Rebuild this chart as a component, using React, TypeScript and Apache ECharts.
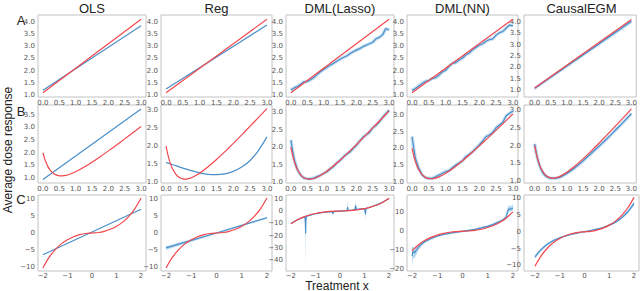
import React, { useEffect, useRef } from "react";
import * as echarts from "echarts";

// ---------- labels ----------
const methods = ["OLS", "Reg", "DML(Lasso)", "DML(NN)", "CausalEGM"];
const rowLetters = ["A", "B", "C"];
const yTitle = "Average dose response";
const xTitle = "Treatment x";

// ---------- tick values ----------
const ticksX_AB = [0, 0.5, 1, 1.5, 2, 2.5, 3];
const ticksX_C = [-2, -1, 0, 1, 2];
const ticksY_A = [1, 1.5, 2, 2.5, 3, 3.5, 4];
const ticksY_B1 = [1, 1.5, 2, 2.5, 3, 3.5];
const ticksY_B = [1, 1.5, 2, 2.5, 3];
const ticksY_C5 = [-10, -5, 0, 5, 10];
const ticksY_CLasso = [-40, -30, -20, -10, 0, 10];
const ticksY_CNN = [-20, -10, 0, 10];

// ---------- Row A (linear truth) ----------
const trueAx = [0, 3];
const trueAy = [1.1, 4.1];
const olsAx = [0, 3];
const olsAy = [1.2, 3.83];
const regAx = [0, 3];
const regAy = [1.26, 3.86];
const x01 = [0, 0.1, 0.2, 0.3, 0.4, 0.5, 0.6, 0.7, 0.8, 0.9, 1.0, 1.1, 1.2, 1.3, 1.4, 1.5, 1.6, 1.7, 1.8, 1.9, 2.0, 2.1, 2.2, 2.3, 2.4, 2.5, 2.6, 2.7, 2.8, 2.9, 3.0];
const lassoAy = [1.22, 1.3, 1.36, 1.45, 1.55, 1.56, 1.63, 1.72, 1.84, 1.96, 2.05, 2.14, 2.22, 2.3, 2.39, 2.47, 2.54, 2.6, 2.69, 2.77, 2.84, 2.9, 2.98, 3.04, 3.1, 3.16, 3.3, 3.36, 3.46, 3.72, 3.66];
const nnAy = [1.2, 1.28, 1.38, 1.48, 1.57, 1.6, 1.68, 1.72, 1.82, 1.95, 2.02, 2.18, 2.3, 2.33, 2.44, 2.52, 2.64, 2.72, 2.85, 2.95, 3.04, 3.1, 3.2, 3.27, 3.3, 3.45, 3.55, 3.6, 3.74, 3.86, 3.83];
const egmAx = [0, 1, 2, 3];
const egmAy = [1.08, 2.06, 3.04, 4.03];
const egmAlo = [1.0, 1.98, 2.96, 3.94];
const egmAhi = [1.15, 2.13, 3.11, 4.1];

// ---------- Row B (U-shaped truth) ----------
const trueBx = [0, 0.05, 0.1, 0.15, 0.2, 0.3, 0.4, 0.5, 0.6, 0.7, 0.8, 1.0, 1.25, 1.5, 1.75, 2.0, 2.25, 2.5, 2.75, 3.0];
const trueBy = [2.0, 1.778, 1.603, 1.465, 1.357, 1.21, 1.129, 1.093, 1.088, 1.107, 1.143, 1.25, 1.426, 1.628, 1.846, 2.074, 2.308, 2.547, 2.788, 3.031];
const olsBx = [0, 3];
const olsBy = [0.95, 3.72];
const regBx = [0, 0.25, 0.5, 0.75, 1.0, 1.25, 1.5, 1.75, 2.0, 2.25, 2.5, 2.75, 3.0];
const regBy = [1.55, 1.47, 1.39, 1.32, 1.26, 1.22, 1.21, 1.23, 1.3, 1.42, 1.6, 1.88, 2.25];
const xB2 = [0, 0.05, 0.1, 0.2, 0.3, 0.4, 0.5, 0.6, 0.7, 0.8, 0.9, 1.0, 1.1, 1.2, 1.3, 1.4, 1.5, 1.6, 1.7, 1.8, 1.9, 2.0, 2.1, 2.2, 2.3, 2.4, 2.5, 2.6, 2.7, 2.8, 2.9, 3.0];
const lassoBy = [2.2, 1.9, 1.66, 1.36, 1.2, 1.12, 1.1, 1.1, 1.12, 1.16, 1.2, 1.25, 1.3, 1.38, 1.45, 1.55, 1.62, 1.72, 1.8, 1.86, 1.96, 2.05, 2.17, 2.28, 2.35, 2.42, 2.55, 2.62, 2.72, 2.85, 2.95, 3.05];
const nnBy = [2.35, 2.0, 1.7, 1.4, 1.2, 1.12, 1.1, 1.1, 1.15, 1.2, 1.25, 1.3, 1.33, 1.42, 1.5, 1.56, 1.63, 1.75, 1.82, 1.9, 2.0, 2.1, 2.22, 2.35, 2.4, 2.48, 2.62, 2.7, 2.78, 2.98, 3.05, 3.12];
const egmBx = [0, 0.1, 0.2, 0.3, 0.4, 0.5, 0.6, 0.75, 1.0, 1.25, 1.5, 1.75, 2.0, 2.25, 2.5, 2.75, 3.0];
const egmBy = [2.05, 1.6, 1.33, 1.18, 1.11, 1.08, 1.08, 1.1, 1.22, 1.38, 1.57, 1.78, 1.99, 2.2, 2.43, 2.66, 2.9];

// ---------- Row C (cubic truth) ----------
const trueCx = [-2, -1.75, -1.5, -1.25, -1, -0.75, -0.5, -0.25, 0, 0.25, 0.5, 0.75, 1, 1.25, 1.5, 1.75, 2];
const trueCy = [-10.3, -7.2, -4.9, -3.2, -2.0, -1.1, -0.5, -0.15, 0, 0.15, 0.5, 1.1, 2.0, 3.2, 4.9, 7.2, 10.3];
const olsCx = [-2, 2];
const olsCy = [-6.4, 7.0];
const regCx = [-2, 0, 2];
const regCy = [-4.4, 0, 4.5];
const regClo = [-5.0, -0.2, 4.2];
const regChi = [-3.8, 0.2, 4.8];
const lassoCx = [-2, -1.75, -1.5, -1.43, -1.41, -1.4, -1.39, -1.37, -1.25, -1, -0.75, -0.5, -0.31, -0.29, -0.27, 0, 0.25, 0.29, 0.31, 0.33, 0.5, 0.6, 0.62, 0.64, 0.66, 0.8, 1.0, 1.04, 1.06, 1.08, 1.25, 1.5, 1.75, 2.0];
const lassoCy = [-10.2, -7.3, -5.1, -4.6, -10, -18, -8, -4.4, -3.5, -2.2, -1.4, -0.8, -0.5, -2.5, -0.5, 0, 0.4, 0.5, 3.2, 0.6, 0.8, 1.1, 1.2, 4.5, 1.3, 1.6, 2.0, -2.5, 2.1, 2.3, 3.3, 5.0, 7.3, 10.2];
const lassoClo = [-10.6, -7.7, -5.5, -5.0, -25, -45, -20, -4.8, -3.9, -2.6, -1.8, -1.2, -0.9, -3.5, -0.9, -0.4, 0, 0.1, 0, 0.2, 0.4, 0.7, 0.8, 0.5, 0.9, 1.2, 1.6, -7, 1.7, 1.9, 2.9, 4.6, 6.9, 9.8];
const lassoChi = [-9.8, -6.9, -4.7, -4.2, -4, -4, -4, -4.0, -3.1, -1.8, -1.0, -0.4, -0.1, -0.1, -0.1, 0.4, 0.8, 0.9, 10, 1.0, 1.2, 1.5, 1.6, 10, 1.7, 2.0, 2.4, 2.4, 2.5, 2.7, 3.7, 5.4, 7.7, 10.6];
const nnCx = [-2, -1.97, -1.93, -1.9, -1.87, -1.83, -1.8, -1.75, -1.6, -1.5, -1.25, -1, -0.75, -0.5, -0.25, 0, 0.25, 0.5, 0.75, 1, 1.25, 1.5, 1.6, 1.7, 1.75, 1.8, 1.85, 1.9, 1.95, 2.0];
const nnCy = [-13, -11, -10.5, -11.5, -10.8, -10, -9.5, -8.5, -6.5, -5.5, -3.8, -2.5, -1.7, -1.0, -0.5, 0, 0.5, 1.0, 1.8, 2.6, 3.8, 5.3, 6.0, 7.0, 8.5, 11, 12, 11.5, 12, 12.3];
const nnClo = [-19, -15, -14, -14.5, -13.5, -12.5, -11.5, -10, -7.5, -6.3, -4.5, -3.1, -2.2, -1.5, -1.0, -0.5, 0, 0.5, 1.2, 2.0, 3.1, 4.5, 5.2, 6.0, 7.2, 9.5, 10.5, 10.2, 10.7, 11];
const nnChi = [-8, -8, -8, -9, -8.5, -8, -7.8, -7, -5.5, -4.7, -3.1, -1.9, -1.2, -0.5, 0, 0.5, 1.0, 1.5, 2.4, 3.2, 4.5, 6.1, 6.8, 8.0, 10, 12.8, 13.8, 13.2, 13.8, 14];
const egmCy = [-7.5, -5.3, -3.7, -2.6, -1.8, -1.2, -0.7, -0.3, 0.05, 0.4, 0.8, 1.3, 2.0, 2.9, 4.2, 6.0, 8.5];
const egmClo = [-8.1, -5.8, -4.1, -2.9, -2.05, -1.4, -0.9, -0.5, -0.15, 0.2, 0.6, 1.05, 1.7, 2.55, 3.8, 5.5, 7.9];
const egmChi = [-6.9, -4.8, -3.3, -2.3, -1.55, -1.0, -0.5, -0.1, 0.25, 0.6, 1.0, 1.55, 2.3, 3.25, 4.6, 6.5, 9.1];

// ---------- style / layout ----------
const RED = "#f2474d";
const BLUE = "#4a8fc9";
const HALO = "#b9d8f0";
const BAND = "rgba(160,205,238,0.75)";
const colBox = [[38, 146], [161, 272], [286, 394], [407, 518], [524, 639]];
const rowBox = [[15, 97], [105, 183], [195, 271]];

type Band = { x: number[]; lo: number[]; hi: number[] };
type Panel = {
  bx: number[]; by: number[]; halo?: boolean; band?: Band; smooth?: boolean;
  yMin: number; yMax: number; yTicks: number[];
};

const zip = (xs: number[], ys: number[]) => xs.map((x, i) => [x, ys[i]]);

const panels: Panel[][] = [
  [
    { bx: olsAx, by: olsAy, yMin: 0.93, yMax: 4.27, yTicks: ticksY_A },
    { bx: regAx, by: regAy, yMin: 0.93, yMax: 4.27, yTicks: ticksY_A },
    { bx: x01, by: lassoAy, halo: true, yMin: 0.93, yMax: 4.27, yTicks: ticksY_A },
    { bx: x01, by: nnAy, halo: true, yMin: 0.93, yMax: 4.27, yTicks: ticksY_A },
    { bx: egmAx, by: egmAy, band: { x: egmAx, lo: egmAlo, hi: egmAhi }, yMin: 0.7, yMax: 4.3, yTicks: ticksY_A },
  ],
  [
    { bx: olsBx, by: olsBy, yMin: 0.81, yMax: 3.88, yTicks: ticksY_B1 },
    { bx: regBx, by: regBy, smooth: true, yMin: 0.98, yMax: 3.13, yTicks: ticksY_B },
    { bx: xB2, by: lassoBy, halo: true, yMin: 0.98, yMax: 3.2, yTicks: ticksY_B },
    { bx: xB2, by: nnBy, halo: true, yMin: 0.96, yMax: 3.3, yTicks: ticksY_B },
    { bx: egmBx, by: egmBy, halo: true, smooth: true, yMin: 0.95, yMax: 3.14, yTicks: ticksY_B },
  ],
  [
    { bx: olsCx, by: olsCy, yMin: -11.2, yMax: 11.2, yTicks: ticksY_C5 },
    { bx: regCx, by: regCy, band: { x: regCx, lo: regClo, hi: regChi }, yMin: -11.2, yMax: 11.2, yTicks: ticksY_C5 },
    { bx: lassoCx, by: lassoCy, band: { x: lassoCx, lo: lassoClo, hi: lassoChi }, yMin: -48.6, yMax: 13, yTicks: ticksY_CLasso },
    { bx: nnCx, by: nnCy, band: { x: nnCx, lo: nnClo, hi: nnChi }, yMin: -21, yMax: 19.2, yTicks: ticksY_CNN },
    { bx: trueCx, by: egmCy, band: { x: trueCx, lo: egmClo, hi: egmChi }, smooth: true, yMin: -11.7, yMax: 11, yTicks: ticksY_C5 },
  ],
];
const truths = [zip(trueAx, trueAy), zip(trueBx, trueBy), zip(trueCx, trueCy)];

const fmtDec = (v: number) => v.toFixed(1);
const fmtInt = (v: number) => String(v).replace("-", "\u2212");

function buildOption() {
  const grid: any[] = [];
  const xAxis: any[] = [];
  const yAxis: any[] = [];
  const series: any[] = [];
  const tickLabel = { fontSize: 7, color: "#555", fontFamily: "DejaVu Sans", margin: 2 };

  panels.forEach((row, r) => {
    row.forEach((p, c) => {
      const i = r * 5 + c;
      const [l, rr] = colBox[c];
      const [t, b] = rowBox[r];
      grid.push({ left: l, top: t, width: rr - l, height: b - t, show: true, borderColor: "#c2c2c2", borderWidth: 1, containLabel: false });
      const isC = r === 2;
      const xr = isC ? (c === 4 ? [-2.44, 2.2] : [-2.2, 2.2]) : (c === 4 ? [-0.33, 3.15] : [-0.15, 3.15]);
      const xt = isC ? ticksX_C : ticksX_AB;
      xAxis.push({
        type: "value", gridIndex: i, min: xr[0], max: xr[1],
        axisLine: { show: false, onZero: false }, splitLine: { show: false },
        axisTick: { show: false },
        axisLabel: { ...tickLabel, margin: isC ? 1 : 2, lineHeight: 7, customValues: xt, formatter: isC ? fmtInt : fmtDec },
      });
      yAxis.push({
        type: "value", gridIndex: i, min: p.yMin, max: p.yMax,
        axisLine: { show: false, onZero: false }, splitLine: { show: false },
        axisTick: { show: false },
        axisLabel: { ...tickLabel, margin: 3, customValues: p.yTicks, formatter: isC ? fmtInt : fmtDec },
      });
      const blueData = zip(p.bx, p.by);
      if (p.band) {
        const band = p.band;
        series.push({
          type: "custom", coordinateSystem: "cartesian2d", xAxisIndex: i, yAxisIndex: i,
          data: [[band.x[0], band.lo[0]]], silent: true, z: 1,
          renderItem: (_params: any, api: any) => {
            const pts: number[][] = [];
            for (let k = 0; k < band.x.length; k++) pts.push(api.coord([band.x[k], band.hi[k]]));
            for (let k = band.x.length - 1; k >= 0; k--) pts.push(api.coord([band.x[k], band.lo[k]]));
            return { type: "polygon", shape: { points: pts }, style: { fill: BAND } };
          },
        });
      }
      if (p.halo) {
        series.push({
          type: "line", xAxisIndex: i, yAxisIndex: i, data: blueData, showSymbol: false, silent: true, z: 1,
          smooth: p.smooth ? 0.3 : false,
          lineStyle: { color: HALO, width: 3.5, opacity: 0.8 },
        });
      }
      series.push({
        type: "line", xAxisIndex: i, yAxisIndex: i, data: blueData, showSymbol: false, z: 2,
        smooth: p.smooth ? 0.3 : false,
        lineStyle: { color: BLUE, width: 1.2 },
      });
      series.push({
        type: "line", xAxisIndex: i, yAxisIndex: i, data: truths[r], showSymbol: false, z: 3,
        smooth: r === 0 ? false : 0.3,
        lineStyle: { color: RED, width: 1.2 },
      });
    });
  });

  const graphic: any[] = [];
  methods.forEach((m, c) => {
    const [l, rr] = colBox[c];
    graphic.push({
      type: "text", x: (l + rr) / 2, y: 8,
      style: { text: m, fontSize: 13, fontFamily: "Liberation Sans", fill: "#222", align: "center", verticalAlign: "middle" },
    });
  });
  const letterY = [20, 111, 199];
  rowLetters.forEach((L, r) => {
    graphic.push({
      type: "text", x: 21, y: letterY[r],
      style: { text: L, fontSize: 13, fontFamily: "Liberation Sans", fill: "#222", align: "center", verticalAlign: "middle" },
    });
  });
  graphic.push({
    type: "text", x: 8, y: 150, rotation: Math.PI / 2,
    style: { text: yTitle, fontSize: 12, fontFamily: "Liberation Sans", fill: "#222", align: "center", verticalAlign: "middle" },
  });
  graphic.push({
    type: "text", x: 337, y: 291,
    style: { text: xTitle, fontSize: 12, lineHeight: 11, fontFamily: "Liberation Sans", fill: "#222", align: "center", verticalAlign: "bottom" },
  });

  return { animation: false, backgroundColor: "#fff", grid, xAxis, yAxis, series, graphic };
}

export default function App() {
  const ref = useRef<HTMLDivElement>(null);
  useEffect(() => {
    document.body.style.margin = "0";
    const chart = echarts.init(ref.current!, null, { renderer: "svg" });
    chart.setOption(buildOption());
    return () => chart.dispose();
  }, []);
  return <div ref={ref} style={{ position: "fixed", left: 0, top: 0, width: 640, height: 291, background: "#fff" }} />;
}
